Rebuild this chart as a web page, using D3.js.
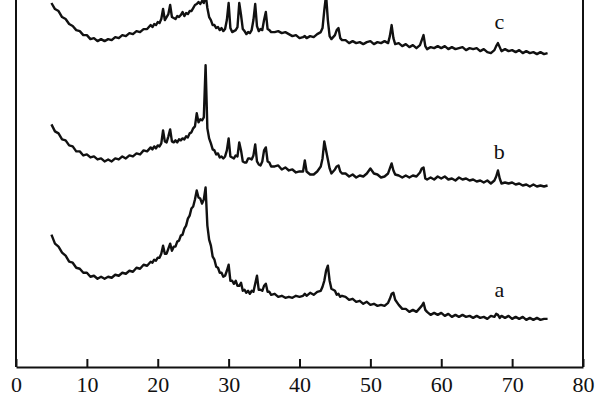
<!DOCTYPE html>
<html>
<head>
<meta charset="utf-8">
<script src="https://cdn.jsdelivr.net/npm/d3@7/dist/d3.min.js"></script>
<style>
  html, body { margin: 0; padding: 0; background: #fff; }
  svg { display: block; }
</style>
</head>
<body>
<div id="chart"></div>
<script>
// ---------- DATA ----------
// 2θ (degrees) sampling positions shared by the three patterns
const twoTheta = [5,5.5,6,6.5,7,7.5,8,8.5,9,9.5,10,10.5,11,11.5,12,12.5,13,13.5,14,14.5,15,15.5,16,16.5,17,17.5,18,18.5,19,
19.25,19.5,19.75,20,20.25,20.5,20.75,21,21.25,21.5,21.75,22,22.25,22.5,22.75,23,23.25,23.5,23.75,24,24.25,24.5,24.75,25,25.25,25.5,25.75,26,26.25,26.5,26.75,27,27.25,27.5,27.75,28,28.25,28.5,28.75,29,29.25,29.5,29.75,30,30.25,30.5,30.75,31,31.25,31.5,31.75,32,32.25,32.5,32.75,33,33.25,33.5,33.75,34,34.25,34.5,34.75,35,35.25,35.5,35.75,36,
36.5,37,37.5,38,38.5,39,39.5,40,
40.5,40.75,41,41.5,42,42.5,43,43.25,43.5,43.75,44,44.25,44.5,45,45.25,45.5,45.75,46,
46.5,47,47.5,48,48.5,49,49.5,50,50.5,51,51.5,52,52.5,52.75,53,53.25,53.5,54,54.5,55,55.5,56,56.5,57,57.25,57.5,57.75,58,58.5,59,59.5,60,60.5,61,61.5,62,62.5,63,63.5,64,64.5,65,65.5,66,66.5,67,67.5,67.75,68,68.25,68.5,69,69.5,70,70.5,71,71.5,72,72.5,73,73.5,74,74.5,75];

// intensities (a.u., curves stacked with offsets as in the figure)
const intensityA = [166,157,154,148,145,139,138,133,132,128,128,124,125,122,124,122,124,123,126,125,128,127,130,129,133,132,136,135,139,
138,141,140,143,143,147,155,147,147,152,157,150,154,154,159,160,165,166,172,175,182,185,192,194,201,210,203,202,197,201,213,175,161,155,144,141,134,133,128,128,124,125,130,136,120,120,117,120,115,115,118,110,111,108,110,107,110,109,117,125,111,111,110,115,117,109,109,106,
107,104,105,103,104,103,105,104,
105,107,105,108,106,109,110,114,120,130,135,120,112,110,106,107,104,105,
104,101,102,99,100,97,99,96,97,95,96,95,98,102,107,108,101,96,92,92,89,91,89,93,95,98,91,89,86,88,86,88,85,87,84,86,84,86,84,85,83,85,83,84,82,85,84,87,86,83,85,83,85,82,84,82,84,81,83,81,83,81,82,82];

const intensityB = [276,269,267,261,260,255,254,249,249,245,246,243,244,241,242,239,241,239,242,241,244,242,245,244,247,246,250,249,253,
251,254,252,255,254,257,270,259,258,264,271,259,258,260,258,261,260,262,261,264,263,267,268,272,274,287,278,281,280,283,335,272,262,257,251,250,246,247,243,244,242,244,250,262,244,243,242,245,244,258,250,239,238,238,242,242,241,245,256,239,236,235,239,250,253,239,238,234,
234,235,231,233,230,231,228,229,
229,240,229,226,226,229,234,242,259,250,241,232,227,231,234,235,229,227,
227,224,226,223,225,224,227,232,227,226,223,224,227,232,237,230,226,225,223,225,223,225,224,228,232,233,222,221,223,221,224,222,224,221,222,220,223,221,222,220,221,219,220,218,220,217,220,224,230,222,217,218,217,218,216,217,215,216,214,216,214,215,214,215];

const intensityC = [397,391,389,383,381,376,374,370,369,365,365,361,362,359,361,359,361,360,363,362,365,364,367,366,369,368,371,371,375,
373,376,375,378,377,381,391,380,383,386,395,383,382,381,384,383,385,388,384,387,386,389,389,392,395,396,398,396,399,397,406,392,383,380,375,375,372,373,370,372,369,371,380,397,372,368,369,370,373,397,385,371,369,366,368,367,370,380,396,374,369,371,370,380,388,371,370,368,
368,369,367,368,366,364,365,362,
363,364,362,364,363,366,368,372,390,405,380,364,361,365,370,372,362,360,
360,357,359,357,358,356,358,359,356,358,357,359,357,364,375,362,356,357,354,356,353,355,352,355,360,365,354,351,353,352,354,352,354,351,353,351,352,353,350,352,351,352,349,351,348,347,350,354,357,353,349,351,349,350,348,350,347,349,347,348,346,348,346,347];

const seriesNames = ["a", "b", "c"];
const seriesValues = [intensityA, intensityB, intensityC];
const labelAngle = 68.2;                 // 2θ where the curve letters sit
const labelIntensity = [104, 241, 371];  // height of the curve letters
const xTicks = [0, 10, 20, 30, 40, 50, 60, 70, 80];
const xDomain = [0, 80];
const yDomain = [34, 400];

// ---------- LAYOUT ----------
const W = 600, H = 400;
const padL = 16, padR = 583, padT = 0, padB = 367;
const FONT = '"Liberation Serif", "Times New Roman", Times, serif';

const svg = d3.select("#chart").append("svg")
  .attr("width", W).attr("height", H)
  .style("background", "#fff");

const x = d3.scaleLinear().domain(xDomain).range([padL, padR]);
const y = d3.scaleLinear().domain(yDomain).range([padB, padT]);

svg.append("clipPath").attr("id", "plotclip")
  .append("rect").attr("x", padL).attr("y", padT)
  .attr("width", padR - padL).attr("height", padB - padT);

const line = d3.line()
  .x(d => x(d[0]))
  .y(d => y(d[1]));

const g = svg.append("g").attr("clip-path", "url(#plotclip)");
seriesValues.forEach((vals, i) => {
  const n = Math.min(vals.length, twoTheta.length);
  const pts = d3.range(n).map(k => [twoTheta[k], vals[k]]);
  g.append("path")
    .datum(pts)
    .attr("fill", "none")
    .attr("stroke", "#111")
    .attr("stroke-width", 2.4)
    .attr("stroke-linejoin", "round")
    .attr("d", line);
});

// curve letters
svg.append("g").selectAll("text")
  .data(seriesNames)
  .join("text")
  .attr("x", x(labelAngle))
  .attr("y", (d, i) => y(labelIntensity[i]))
  .attr("text-anchor", "middle")
  .style("font-family", FONT)
  .style("font-size", "22px")
  .attr("fill", "#111")
  .text(d => d);

// bottom axis (ticks inward)
const xAxis = d3.axisBottom(x)
  .tickValues(xTicks)
  .tickFormat(d3.format("d"))
  .tickSizeInner(-8)
  .tickSizeOuter(0)
  .tickPadding(9);

const ax = svg.append("g")
  .attr("transform", `translate(0,${padB})`)
  .call(xAxis);
ax.select(".domain").attr("stroke", "#111").attr("stroke-width", 2);
ax.selectAll(".tick line").attr("stroke", "#111").attr("stroke-width", 2);
ax.selectAll(".tick text")
  .attr("fill", "#111")
  .style("font-family", FONT)
  .style("font-size", "22px");

// left and right frame lines
svg.append("line")
  .attr("x1", padL).attr("x2", padL)
  .attr("y1", padT).attr("y2", padB)
  .attr("stroke", "#111").attr("stroke-width", 2);
svg.append("line")
  .attr("x1", padR).attr("x2", padR)
  .attr("y1", padT).attr("y2", padB)
  .attr("stroke", "#111").attr("stroke-width", 2);
</script>
</body>
</html>
